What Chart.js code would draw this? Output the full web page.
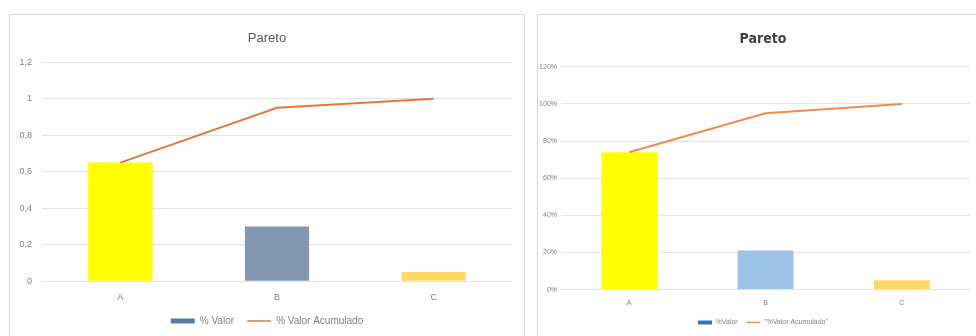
<!DOCTYPE html>
<html>
<head>
<meta charset="utf-8">
<script src="https://cdn.jsdelivr.net/npm/chart.js@4.4.1/dist/chart.umd.min.js"></script>
<style>
  html, body { margin: 0; padding: 0; background: #fff; overflow: hidden; }
  body { width: 976px; height: 336px; position: relative; }
  .panel { position: absolute; box-sizing: border-box; border: 1px solid #d9d9d9; border-bottom: none; background: #fff; }
  #left-panel { left: 9px; top: 14px; width: 516px; height: 322px; }
  #right-panel { left: 537px; top: 14px; width: 452px; height: 322px; }
</style>
</head>
<body>
<div class="panel" id="left-panel"><canvas id="left-chart"></canvas></div>
<div class="panel" id="right-panel"><canvas id="right-chart"></canvas></div>
<script>
// Categories
const categories = ['A', 'B', 'C'];

// Left chart values
const leftValor = [0.65, 0.30, 0.05];
const leftAcumulado = [0.65, 0.95, 1.0];
const leftTicks = [0, 0.2, 0.4, 0.6, 0.8, 1, 1.2];

// Right chart values
const rightValor = [0.74, 0.21, 0.05];
const rightAcumulado = [0.74, 0.95, 1.0];
const rightTicks = [0, 0.2, 0.4, 0.6, 0.8, 1, 1.2];

// Colors
const leftBarColors = ['#ffff00', '#8497b0', '#ffd966'];
const rightBarColors = ['#ffff00', '#9dc3e6', '#ffd966'];

function legendLabels(chart, swatch, lineCol, textCol, gap) {
  return chart.data.datasets.map(function(ds, i) {
    const isLine = ds.type === 'line';
    return {
      // bar entry gets a few trailing spaces, the legend uses one padding value for both directions
      text: isLine ? ds.label : ds.label + gap,
      fillStyle: isLine ? lineCol : swatch,
      strokeStyle: isLine ? lineCol : swatch,
      lineWidth: isLine ? 1.5 : 0,
      pointStyle: isLine ? 'line' : 'rect',
      fontColor: textCol,
      datasetIndex: i,
      hidden: false
    };
  });
}

function makeChart(id, cfg) {
  const ctx = document.getElementById(id).getContext('2d');
  return new Chart(ctx, {
    data: {
      labels: categories,
      datasets: [
        {
          type: 'line',
          label: cfg.lineLabel,
          data: cfg.acumulado,
          borderColor: cfg.lineColor,
          borderWidth: 2,
          pointRadius: 0,
          tension: 0,
          order: 0
        },
        {
          type: 'bar',
          label: cfg.barLabel,
          data: cfg.valor,
          backgroundColor: cfg.barColors,
          categoryPercentage: 1,
          barPercentage: 0.41,
          order: 1
        }
      ]
    },
    options: {
      responsive: true,
      maintainAspectRatio: false,
      animation: false,
      layout: { padding: { left: 0, right: 0, top: 0, bottom: cfg.padBottom } },
      plugins: {
        title: {
          display: true,
          text: 'Pareto',
          color: cfg.titleColor,
          font: cfg.titleFont,
          padding: cfg.titlePadding
        },
        legend: {
          position: 'bottom',
          reverse: true,
          labels: {
            usePointStyle: true,
            pointStyleWidth: cfg.swatchWidth,
            boxHeight: cfg.swatchHeight,
            padding: cfg.legendPadding,
            color: '#7f7f7f',
            font: { family: 'Liberation Sans, Arial, sans-serif', size: cfg.legendSize },
            generateLabels: function(chart) {
              return legendLabels(chart, cfg.swatch, cfg.lineColor, '#7f7f7f', cfg.legendGap);
            }
          }
        },
        tooltip: { enabled: false }
      },
      scales: {
        x: {
          grid: { display: false, drawTicks: false },
          border: { display: false },
          ticks: {
            color: '#7f7f7f',
            padding: cfg.xPad,
            font: { family: 'Liberation Sans, Arial, sans-serif', size: cfg.tickSize }
          }
        },
        y: {
          min: 0,
          max: 1.2,
          afterFit: function(scale) { scale.width = cfg.yWidth; },
          afterBuildTicks: function(scale) {
            scale.ticks = cfg.ticks.map(function(v) { return { value: v }; });
          },
          grid: { color: '#e4e4e4', drawTicks: false },
          border: { display: false },
          ticks: {
            color: '#7f7f7f',
            padding: cfg.yPad,
            font: { family: 'Liberation Sans, Arial, sans-serif', size: cfg.tickSize },
            callback: cfg.fmt
          }
        },
        // empty right-hand spacer so the title and legend stay centred on the panel
        spacer: {
          type: 'linear',
          position: 'right',
          afterFit: function(scale) { scale.width = cfg.rightWidth; },
          grid: { display: false, drawTicks: false },
          border: { display: false },
          ticks: { display: false }
        }
      }
    }
  });
}

makeChart('left-chart', {
  valor: leftValor,
  acumulado: leftAcumulado,
  ticks: leftTicks,
  barColors: leftBarColors,
  lineColor: '#e07b3c',
  swatch: '#5a7ba6',
  barLabel: '% Valor',
  lineLabel: '% Valor Acumulado',
  legendGap: '    ',
  titleColor: '#595959',
  titleFont: { family: 'Liberation Sans, Arial, sans-serif', size: 13, weight: 'normal', lineHeight: 1.4 },
  titlePadding: { top: 14, bottom: 15 },
  rightWidth: 12,
  padBottom: 0,
  yWidth: 32,
  yPad: 10,
  xPad: 11,
  tickSize: 9,
  legendSize: 10,
  legendPadding: 2,
  swatchWidth: 24,
  swatchHeight: 5,
  fmt: function(v) { return String(Number(v.toFixed(1))).replace('.', ','); }
});

makeChart('right-chart', {
  valor: rightValor,
  acumulado: rightAcumulado,
  ticks: rightTicks,
  barColors: rightBarColors,
  lineColor: '#f08c4c',
  swatch: '#2e75b6',
  barLabel: '%Valor',
  lineLabel: '"%Valor Acumulado"',
  legendGap: '   ',
  titleColor: '#404040',
  titleFont: { family: 'Liberation Sans Narrow, DejaVu Sans Condensed, sans-serif', size: 14, weight: 'bold', lineHeight: 1.2 },
  titlePadding: { top: 16, bottom: 19 },
  rightWidth: 18,
  padBottom: 0,
  yWidth: 23,
  yPad: 4,
  xPad: 9,
  tickSize: 7,
  legendSize: 7,
  legendPadding: 3,
  swatchWidth: 14,
  swatchHeight: 4,
  fmt: function(v) { return Math.round(v * 100) + '%'; }
});
</script>
</body>
</html>
